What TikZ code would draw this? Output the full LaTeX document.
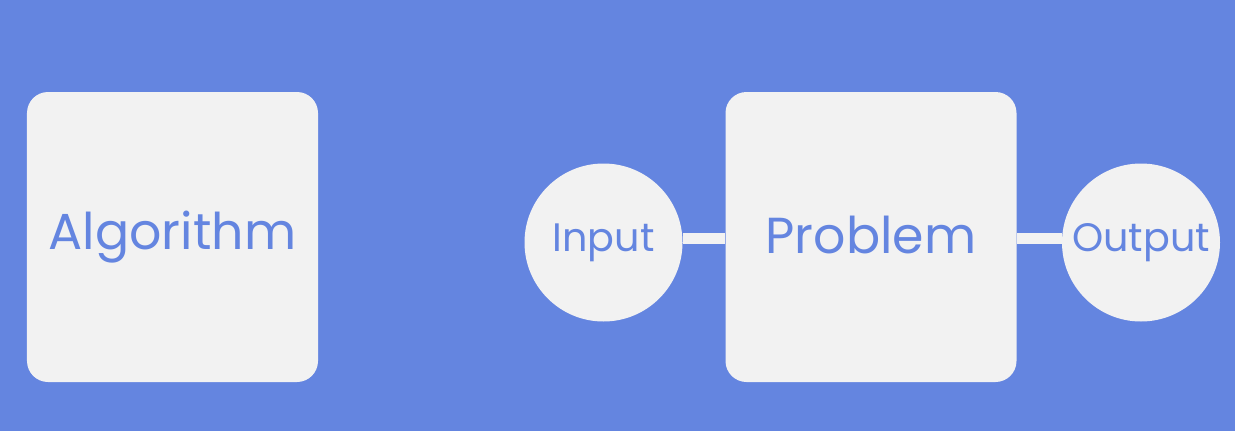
\documentclass[tikz,border=0pt]{standalone}
\usepackage{fontspec}
\setmainfont{Poppins}
\usetikzlibrary{positioning}
\definecolor{slideblue}{HTML}{6485E0}
\definecolor{cardgrey}{HTML}{F2F2F2}
\newcommand\liftedtext[1]{\raisebox{2.4pt}{#1}}
\tikzset{
  card/.style={fill=cardgrey, draw=none, rounded corners=0.42cm, minimum width=5.82cm, minimum height=5.80cm, inner sep=0pt, text=slideblue, font=\fontsize{28.8}{32}\selectfont},
  bubble/.style={circle, fill=cardgrey, draw=none, minimum size=3.16cm, inner sep=0pt, text=slideblue, font=\fontsize{22.6}{26}\selectfont},
  link/.style={line width=0.22cm, draw=cardgrey, line cap=butt},
}

\begin{document}
\begin{tikzpicture}
\useasboundingbox (0,0) rectangle (24.70,8.62);
\fill[slideblue] (0,0) rectangle (24.70,8.62);
\node[card] (algo) at (3.45,3.88) {\liftedtext{Algorithm}};
\node[card] (prob) at (17.42,3.88) {\liftedtext{Problem}};
\node[bubble] (in) at (12.07,3.77) {Input};
\node[bubble] (out) at (22.82,3.77) {Output};
\draw[link] ([yshift=2pt]in.east) -- ([yshift=2pt]in.east -| prob.west);
\draw[link] ([yshift=2pt]prob.east |- out.west) -- ([yshift=2pt]out.west);
\end{tikzpicture}
\end{document}
